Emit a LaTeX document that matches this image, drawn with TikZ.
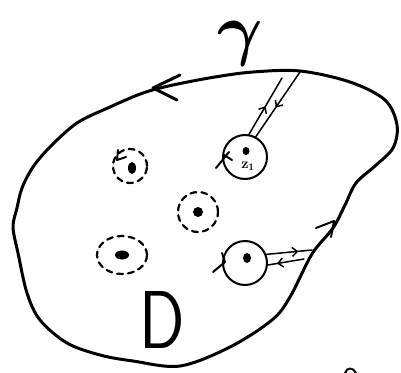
\documentclass[tikz,border=0pt]{standalone}
\usepackage{amsmath}
\usetikzlibrary{arrows.meta,decorations.markings}
\begin{document}
\begin{tikzpicture}[x=1pt,y=-1pt,line cap=round,line join=round,
  outline/.style={line width=3pt},
  ink/.style={line width=2pt},
  thin ink/.style={line width=1.5pt},
  dashring/.style={line width=2.2pt,dash pattern=on 6pt off 5pt},
  ring/.style={draw,line width=2pt,circle,inner sep=0pt,minimum size=44pt},
  midarrow/.style={postaction={decorate},decoration={markings,
     mark=at position #1 with {\arrow{Straight Barb[length=5pt,width=9pt,line width=1.5pt]}}}}]
\useasboundingbox (0,0) rectangle (401,372);
% contour gamma
\draw[outline] plot[smooth cycle,tension=0.55] coordinates {
 (300,71) (350,82) (385,100) (397,125) (393,148) (375,166) (356,183)
 (345,205) (333,228) (312,254) (290,297) (272,320) (230,347) (180,366)
 (133,361) (100,355) (67,343) (40,320) (27,293) (18,253) (13,227)
 (17,208) (22,188) (33,167) (50,147) (77,123) (110,107) (143,93)
 (173,85) (215,77) (253,72)};
% arrowheads on the contour
\coordinate (tipL) at (153,88);
\draw[outline] (tipL) -- (180,75);
\draw[outline] (tipL) -- (177,100);
\coordinate (tipR) at (334,221);
\draw[ink] (tipR) -- (316,228);
\draw[ink] (tipR) -- (331,237);
% label gamma
\node[inner sep=0pt,scale=2.8] (gam) at (240,44) {\Huge$\boldsymbol{\gamma}$};
% label D
\node[inner sep=0pt,font=\sffamily,xscale=2.7,yscale=3.3] (dlab) at (162,320) {\Huge D};
% dashed rings with singular points
\draw[dashring] (130,166) circle [radius=17pt];
\fill (132,168) ellipse [x radius=4pt,y radius=6pt];
\draw[ink] (117,160) -- (118,150);
\draw[ink] (117,160) -- (126,157);
\draw[dashring] (198,212) circle [radius=20pt];
\fill (198,212) ellipse [x radius=5pt,y radius=5pt];
\draw[dashring] (122,255) ellipse [x radius=25pt,y radius=19pt];
\fill (122,255) ellipse [x radius=7pt,y radius=4.5pt];
% keyhole circle A
\node[ring] (kA) at (245,157) {};
\fill (246,151) ellipse [x radius=3.5pt,y radius=4pt];
\node[font=\Large,inner sep=0pt] (zl) at (248,166) {$\mathbf{z_1}$};
\coordinate (oA1) at (282,78);
\coordinate (oA2) at (300,72);
\draw[thin ink,midarrow=0.5] (kA.80) -- (oA1);
\draw[thin ink,midarrow=0.55] (oA2) -- (kA.62);
\draw[ink] (216,168) -- (229,152);
\draw[ink] (224,155) -- (232,160);
% keyhole circle B
\node[ring] (kB) at (245,263) {};
\fill (247,258) ellipse [x radius=4pt,y radius=5pt];
\coordinate (oB1) at (312,250);
\coordinate (oB2) at (304,259);
\draw[thin ink,midarrow=0.7] (kB.22) -- (oB1);
\draw[thin ink,midarrow=0.75] (oB2) -- (kB.-5);
\draw[ink] (213,272) -- (225,262);
\draw[ink] (225,262) -- (222,253);
% partial mark at bottom right
\draw[ink] (345,373) .. controls (347,367) and (353,367) .. (356,373);
\end{tikzpicture}
\end{document}
